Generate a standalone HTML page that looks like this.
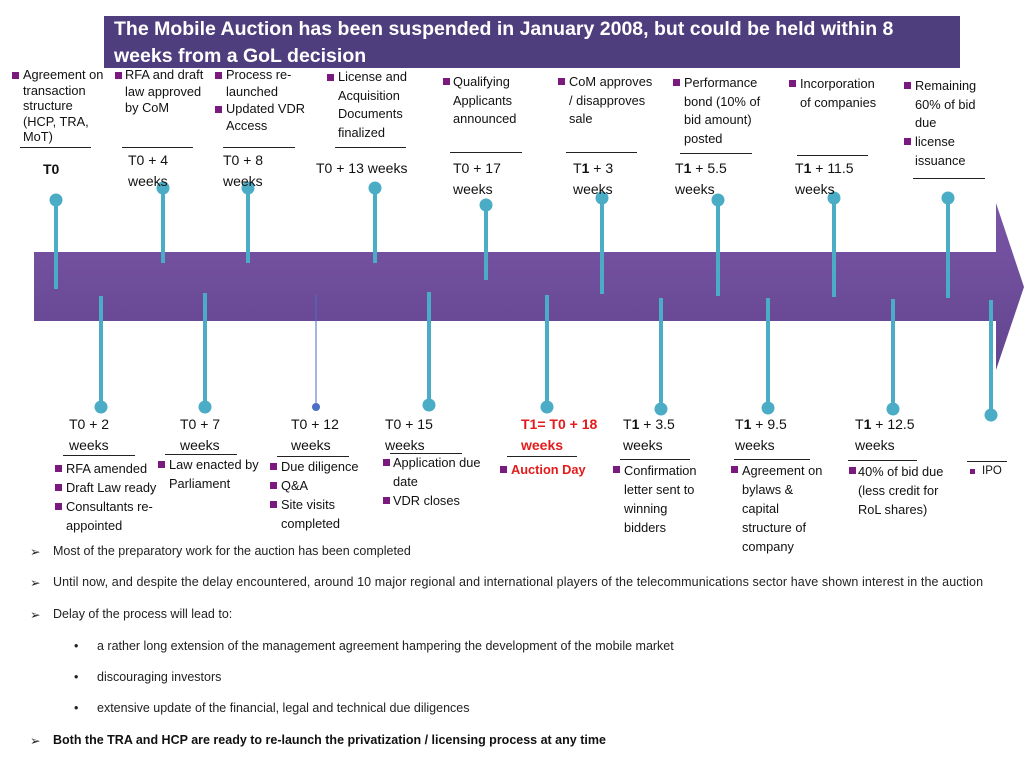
<!DOCTYPE html>
<html><head><meta charset="utf-8">
<style>
body{margin:0;width:1024px;height:768px;background:#fff;position:relative;overflow:hidden;font-family:"Liberation Sans",Arial,sans-serif;color:#222}
.a{position:absolute;white-space:nowrap}
.lbl{font-size:12.8px;line-height:18.5px;color:#111}
.b{position:absolute;width:7px;height:7px;background:#7a1a7f}
.ul{position:absolute;height:1px;background:#222}
.t{position:absolute;font-size:14px;line-height:21px;color:#111;white-space:nowrap}
.bt{position:absolute;font-size:12.5px;color:#222;white-space:nowrap}
</style></head><body>
<div class="a" style="left:104px;top:16px;width:856px;height:52px;background:#4f3e7e"></div>
<div class="a" style="left:114px;top:16px;color:#fff;font-weight:bold;font-size:19.5px;line-height:27px">The Mobile Auction has been suspended in January 2008, but could be held within 8<br>weeks from a GoL decision</div>

<svg id="tl" width="1024" height="768" style="position:absolute;left:0;top:0">
<defs><linearGradient id="g" x1="0" y1="0" x2="0" y2="1"><stop offset="0" stop-color="#7a55a6"/><stop offset="1" stop-color="#62458f"/></linearGradient></defs>
<path d="M34 252 H996 V203 L1024 287 L996 370 V321 H34 Z" fill="url(#g)"/>
</svg>

<!-- top labels -->
<div class="b" style="left:12px;top:72px"></div><div class="a lbl" style="left:23px;top:67px;line-height:15.5px">Agreement on<br>transaction<br>structure<br>(HCP, TRA,<br>MoT)</div>
<div class="ul" style="left:20px;top:147px;width:71px"></div><div class="t" style="left:43px;top:159px;font-weight:bold">T0</div>

<div class="b" style="left:115px;top:72px"></div><div class="a lbl" style="left:125px;top:67px;line-height:16.5px">RFA and draft<br>law approved<br>by CoM</div>
<div class="ul" style="left:122px;top:147px;width:71px"></div><div class="t" style="left:128px;top:150px">T0 + 4<br>weeks</div>

<div class="b" style="left:215px;top:72px"></div><div class="a lbl" style="left:226px;top:67px;line-height:16.5px">Process re-<br>launched</div>
<div class="b" style="left:215px;top:106px"></div><div class="a lbl" style="left:226px;top:101px;line-height:16.5px">Updated VDR<br>Access</div>
<div class="ul" style="left:223px;top:147px;width:72px"></div><div class="t" style="left:223px;top:150px">T0 + 8<br>weeks</div>

<div class="b" style="left:327px;top:74px"></div><div class="a lbl" style="left:338px;top:68px">License and<br>Acquisition<br>Documents<br>finalized</div>
<div class="ul" style="left:335px;top:147px;width:71px"></div><div class="t" style="left:316px;top:158px">T0 + 13 weeks</div>

<div class="b" style="left:443px;top:78px"></div><div class="a lbl" style="left:453px;top:73px">Qualifying<br>Applicants<br>announced</div>
<div class="ul" style="left:450px;top:152px;width:72px"></div><div class="t" style="left:453px;top:158px">T0 + 17<br>weeks</div>

<div class="b" style="left:558px;top:78px"></div><div class="a lbl" style="left:569px;top:73px">CoM approves<br>/ disapproves<br>sale</div>
<div class="ul" style="left:566px;top:152px;width:71px"></div><div class="t" style="left:573px;top:158px">T<b>1</b> + 3<br>weeks</div>

<div class="b" style="left:673px;top:79px"></div><div class="a lbl" style="left:684px;top:74px">Performance<br>bond (10% of<br>bid amount)<br>posted</div>
<div class="ul" style="left:680px;top:153px;width:72px"></div><div class="t" style="left:675px;top:158px">T<b>1</b> + 5.5<br>weeks</div>

<div class="b" style="left:789px;top:80px"></div><div class="a lbl" style="left:800px;top:75px">Incorporation<br>of companies</div>
<div class="ul" style="left:797px;top:155px;width:71px"></div><div class="t" style="left:795px;top:158px">T<b>1</b> + 11.5<br>weeks</div>

<div class="b" style="left:904px;top:82px"></div><div class="a lbl" style="left:915px;top:77px">Remaining<br>60% of bid<br>due</div>
<div class="b" style="left:904px;top:138px"></div><div class="a lbl" style="left:915px;top:133px">license<br>issuance</div>
<div class="ul" style="left:913px;top:178px;width:72px"></div>

<!-- bottom labels -->
<div class="t" style="left:69px;top:414px">T0 + 2<br>weeks</div><div class="ul" style="left:63px;top:455px;width:72px"></div>
<div class="b" style="left:55px;top:465px"></div><div class="b" style="left:55px;top:484px"></div><div class="b" style="left:55px;top:503px"></div>
<div class="a lbl" style="left:66px;top:459px;line-height:19px">RFA amended<br>Draft Law ready<br>Consultants re-<br>appointed</div>

<div class="t" style="left:180px;top:414px">T0 + 7<br>weeks</div><div class="ul" style="left:165px;top:454px;width:72px"></div>
<div class="b" style="left:158px;top:461px"></div><div class="a lbl" style="left:169px;top:456px">Law enacted by<br>Parliament</div>

<div class="t" style="left:291px;top:414px">T0 + 12<br>weeks</div><div class="ul" style="left:277px;top:456px;width:72px"></div>
<div class="b" style="left:270px;top:463px"></div><div class="b" style="left:270px;top:482px"></div><div class="b" style="left:270px;top:501px"></div>
<div class="a lbl" style="left:281px;top:457px;line-height:19px">Due diligence<br>Q&amp;A<br>Site visits<br>completed</div>

<div class="t" style="left:385px;top:414px">T0 + 15<br>weeks</div><div class="ul" style="left:390px;top:453px;width:72px"></div>
<div class="b" style="left:383px;top:459px"></div><div class="a lbl" style="left:393px;top:454px">Application due<br>date</div>
<div class="b" style="left:383px;top:497px"></div><div class="a lbl" style="left:393px;top:492px">VDR closes</div>

<div class="t" style="left:521px;top:414px;color:#e31b1b;font-weight:bold">T1= T0 + 18<br>weeks</div><div class="ul" style="left:507px;top:456px;width:70px"></div>
<div class="b" style="left:500px;top:466px"></div><div class="a lbl" style="left:511px;top:461px;color:#e31b1b;font-weight:bold">Auction Day</div>

<div class="t" style="left:623px;top:414px">T<b>1</b> + 3.5<br>weeks</div><div class="ul" style="left:620px;top:459px;width:70px"></div>
<div class="b" style="left:613px;top:466px"></div><div class="a lbl" style="left:624px;top:461px;line-height:19px">Confirmation<br>letter sent to<br>winning<br>bidders</div>

<div class="t" style="left:735px;top:414px">T<b>1</b> + 9.5<br>weeks</div><div class="ul" style="left:734px;top:459px;width:76px"></div>
<div class="b" style="left:731px;top:466px"></div><div class="a lbl" style="left:742px;top:461px;line-height:19px">Agreement on<br>bylaws &amp;<br>capital<br>structure of<br>company</div>

<div class="t" style="left:855px;top:414px">T<b>1</b> + 12.5<br>weeks</div><div class="ul" style="left:848px;top:460px;width:69px"></div>
<div class="b" style="left:849px;top:467px"></div><div class="a lbl" style="left:858px;top:462px;line-height:19px">40% of bid due<br>(less credit for<br>RoL shares)</div>

<div class="ul" style="left:967px;top:461px;width:40px"></div>
<div class="b" style="left:970px;top:469px;width:5px;height:5px"></div><div class="a lbl" style="left:982px;top:462px;font-size:11.5px">IPO</div>

<!-- bullet text -->
<div class="bt" style="left:30px;top:544px">&#10146;</div><div class="bt" style="left:53px;top:544px">Most of the preparatory work for the auction has been completed</div>
<div class="bt" style="left:30px;top:575px">&#10146;</div><div class="bt" style="left:53px;top:575px;letter-spacing:0.1px">Until now, and despite the delay encountered, around 10 major regional and international players of the telecommunications sector have shown interest in the auction</div>
<div class="bt" style="left:30px;top:607px">&#10146;</div><div class="bt" style="left:53px;top:607px">Delay of the process will lead to:</div>
<div class="bt" style="left:74px;top:639px">•</div><div class="bt" style="left:97px;top:639px">a rather long extension of the management agreement hampering the development of the mobile market</div>
<div class="bt" style="left:74px;top:670px">•</div><div class="bt" style="left:97px;top:670px">discouraging investors</div>
<div class="bt" style="left:74px;top:701px">•</div><div class="bt" style="left:97px;top:701px">extensive update of the financial, legal and technical due diligences</div>
<div class="bt" style="left:30px;top:733px">&#10146;</div><div class="bt" style="left:53px;top:733px;font-weight:bold;color:#111">Both the TRA and HCP are ready to re-launch the privatization / licensing process at any time</div>

<script>
var topX=[56,163,248,375,486,602,718,834,948];
var topCircleY=[200,188,188,188,205,198,200,198,198];
var topEndY=[289,263,263,263,280,294,296,297,298];
var botX=[101,205,316,429,547,661,768,893,991];
var botStartY=[296,293,295,292,295,298,298,299,300];
var botCircleY=[407,407,407,405,407,409,408,409,415];
var svg=document.getElementById('tl');
var NS='http://www.w3.org/2000/svg';
function pin(x,y1,y2,cy,thin,name){
  var l=document.createElementNS(NS,'line');
  l.setAttribute('x1',x);l.setAttribute('x2',x);l.setAttribute('y1',y1);l.setAttribute('y2',y2);
  l.setAttribute('stroke',thin?'#4a6fc4':'#4bacc6');l.setAttribute('stroke-width',thin?1:4);
  
  
  svg.appendChild(l);
  var c=document.createElementNS(NS,'circle');
  c.setAttribute('cx',x);c.setAttribute('cy',cy);c.setAttribute('r',thin?4:6.5);
  c.setAttribute('fill',thin?'#4a6fc4':'#4bacc6');
  
  
  svg.appendChild(c);
}
for(var i=0;i<topX.length;i++) pin(topX[i],topCircleY[i],topEndY[i],topCircleY[i],false,'top-pin-'+i);
for(var j=0;j<botX.length;j++) pin(botX[j],botStartY[j],botCircleY[j],botCircleY[j],j==2,'bottom-pin-'+j);
</script>
</body></html>
